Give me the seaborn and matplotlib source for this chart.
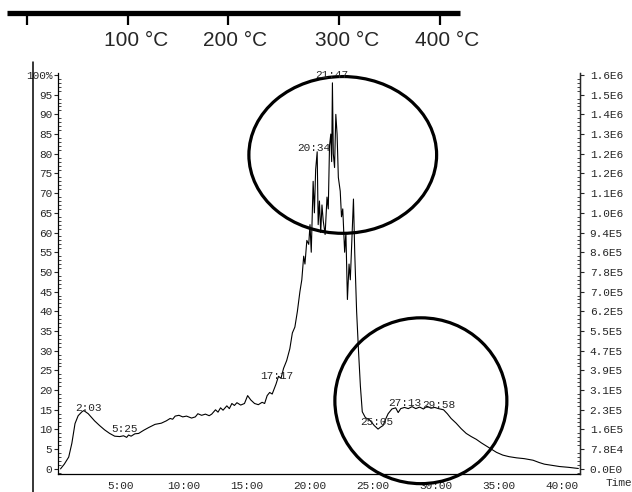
import numpy as np
import pandas as pd
import matplotlib
matplotlib.use("Agg")
import matplotlib.pyplot as plt
from matplotlib.patches import Ellipse
from matplotlib.lines import Line2D
from matplotlib.ticker import MultipleLocator
import seaborn as sns

# ---------------- data ----------------
time_min = [0.2, 0.5, 0.85, 1.1, 1.35, 1.6, 1.9, 2.05, 2.4, 2.9, 3.3, 3.7, 4.1, 4.5, 4.9,
            5.2, 5.45, 5.6, 5.8, 6.1, 6.4, 6.8, 7.2, 7.7, 8.2, 8.6, 8.9, 9.1, 9.3, 9.6,
            9.9, 10.2, 10.6, 10.9, 11.1, 11.4, 11.7, 12.0, 12.2, 12.5, 12.7, 12.9, 13.1,
            13.4, 13.6, 13.8, 14.0, 14.2, 14.5, 14.8, 15.05, 15.3, 15.6, 15.9, 16.2, 16.4,
            16.6, 16.8, 17.0, 17.3, 17.5, 17.7, 17.9, 18.15, 18.4, 18.6, 18.8, 19.0, 19.2,
            19.35, 19.5, 19.6, 19.75, 19.9, 20.0, 20.1, 20.25, 20.35, 20.45, 20.57, 20.65,
            20.75, 20.85, 20.95, 21.05, 21.2, 21.35, 21.45, 21.55, 21.65, 21.72, 21.78,
            21.85, 21.95, 22.05, 22.15, 22.25, 22.4, 22.5, 22.6, 22.75, 22.85, 22.97, 23.1,
            23.2, 23.35, 23.45, 23.55, 23.7, 23.85, 24.0, 24.15, 24.4, 24.7, 24.9, 25.1,
            25.4, 25.6, 25.8, 26.0, 26.2, 26.5, 26.8, 27.0, 27.2, 27.5, 27.8, 28.1, 28.4,
            28.7, 29.0, 29.3, 29.6, 29.9, 30.2, 30.6, 30.9, 31.2, 31.6, 32.0, 32.4, 32.8,
            33.2, 33.6, 34.0, 34.4, 34.8, 35.3, 35.8, 36.4, 37.0, 37.7, 38.2, 38.6, 39.2,
            39.8, 40.5, 41.3]
intensity_pct = [0.0, 1.2, 3.0, 6.5, 11.5, 13.5, 14.5, 14.8, 14.0, 12.2, 11.0, 9.9, 9.0, 8.3, 8.2,
                 8.4, 8.0, 8.6, 8.3, 8.9, 9.0, 9.8, 10.5, 11.3, 11.6, 12.2, 12.8, 12.6, 13.4, 13.6,
                 13.2, 13.4, 12.9, 13.2, 14.0, 13.6, 13.9, 13.5, 13.9, 15.0, 14.4, 15.5, 14.9,
                 16.0, 15.3, 16.6, 16.1, 16.8, 16.2, 16.6, 18.6, 17.5, 16.6, 16.3, 16.9, 16.6,
                 18.6, 19.4, 19.0, 21.5, 23.5, 23.0, 25.5, 27.5, 30.5, 34.5, 36.0, 40.0, 45.0,
                 48.0, 54.0, 52.0, 58.0, 57.0, 62.0, 55.0, 73.0, 65.0, 76.0, 80.5, 62.0,
                 68.0, 60.0, 67.0, 63.0, 59.5, 69.0, 66.0, 82.0, 85.0, 78.0, 98.0,
                 80.0, 76.5, 90.0, 85.0, 74.0, 70.5, 64.0, 66.0, 55.0, 60.0, 43.0, 52.0,
                 48.0, 60.0, 68.5, 55.0, 40.0, 30.0, 21.0, 14.5, 13.0, 12.5, 11.8, 11.0,
                 10.1, 10.6, 11.0, 12.6, 14.0, 15.2, 15.5, 14.3, 15.3, 15.6, 15.3, 15.8, 15.3,
                 15.7, 15.2, 15.9, 15.4, 15.6, 15.3, 15.0, 14.0, 12.8, 11.6, 10.2, 9.0, 8.2,
                 7.5, 6.6, 5.8, 5.0, 4.2, 3.5, 3.1, 2.8, 2.6, 2.2, 1.6, 1.2, 0.9,
                 0.6, 0.4, 0.1]

peak_labels = ["2:03", "5:25", "17:17", "20:34", "21:47", "25:05", "27:13", "29:58"]
peak_label_t = [2.38, 5.3, 17.35, 20.3, 21.72, 25.3, 27.54, 30.26]
peak_label_y = [15.5, 10.2, 23.6, 81.5, 100.0, 12.0, 16.7, 16.2]

left_ticks = list(range(0, 101, 5))
left_labels = [str(v) for v in left_ticks[:-1]] + ["100%"]
right_labels = ["0.0E0", "7.8E4", "1.6E5", "2.3E5", "3.1E5", "3.9E5", "4.7E5", "5.5E5",
                "6.2E5", "7.0E5", "7.8E5", "8.6E5", "9.4E5", "1.0E6", "1.1E6", "1.2E6",
                "1.2E6", "1.3E6", "1.4E6", "1.5E6", "1.6E6"]
time_ticks = [5, 10, 15, 20, 25, 30, 35, 40]
time_labels = ["5:00", "10:00", "15:00", "20:00", "25:00", "30:00", "35:00", "40:00"]

temp_labels = ["100 \u00b0C", "200 \u00b0C", "300 \u00b0C", "400 \u00b0C"]

# ---------------- figure ----------------
sns.set_style("white")
plt.rcParams["font.family"] = ["Liberation Mono", "DejaVu Sans"]

W, H = 632, 492
fig = plt.figure(figsize=(W / 100, H / 100), dpi=100)
fig.patch.set_facecolor("white")

def fx(px):
    return px / W

def fy(py):
    return 1 - py / H

ax = fig.add_axes([fx(58), fy(474), fx(580) - fx(58), fy(73) - fy(474)])
df = pd.DataFrame({"t": time_min, "v": intensity_pct})
sns.lineplot(data=df, x="t", y="v", ax=ax, color="black", lw=0.8,
             estimator=None, sort=False)
ax.set_xlim(0, 41.43)
ax.set_ylim(-1.3, 100.5)
ax.set_xlabel("")
ax.set_ylabel("")

mono = dict(family=["Liberation Mono", "DejaVu Sans"], size=8)
ax.set_yticks(left_ticks)
ax.set_yticklabels(left_labels, fontdict=mono)
ax.yaxis.set_minor_locator(MultipleLocator(1))
ax.set_xticks(time_ticks)
ax.set_xticklabels(time_labels, fontdict=mono)
ax.xaxis.set_minor_locator(MultipleLocator(1))
ax.tick_params(axis="y", which="major", direction="out", length=3, width=0.8, pad=1)
ax.tick_params(axis="y", which="minor", direction="in", length=2.5, width=0.6)
ax.tick_params(axis="x", which="major", direction="out", length=3, width=0.8, pad=2)
ax.tick_params(axis="x", which="minor", direction="out", length=2, width=0.6)
for s in ["left", "bottom", "right"]:
    ax.spines[s].set_visible(True)
    ax.spines[s].set_color("black")
    ax.spines[s].set_linewidth(0.9)
ax.spines["top"].set_visible(False)

ax2 = ax.twinx()
ax2.set_ylim(ax.get_ylim())
ax2.set_yticks(left_ticks)
ax2.set_yticklabels(right_labels, fontdict=mono)
ax2.yaxis.set_minor_locator(MultipleLocator(1))
ax2.tick_params(axis="y", which="major", direction="out", length=3, width=0.8, pad=4)
ax2.tick_params(axis="y", which="minor", direction="in", length=2.5, width=0.6)
for s in ["left", "bottom", "top"]:
    ax2.spines[s].set_visible(False)
ax2.spines["right"].set_linewidth(0.9)

for lab, t, v in zip(peak_labels, peak_label_t, peak_label_y):
    ax.text(t, v, lab, ha="center", va="center", fontdict=mono, clip_on=False)

# circled regions
ax.add_patch(Ellipse((22.6, 79.7), 14.9, 39.8, fill=False, ec="black", lw=2.3, clip_on=False))
ax.add_patch(Ellipse((28.8, 17.3), 13.65, 42.1, fill=False, ec="black", lw=2.3, clip_on=False))

fig.text(fx(606), fy(483), "Time", ha="left", va="center", fontdict=mono)

# temperature ruler
fig.add_artist(Line2D([fx(7), fx(460)], [fy(12.5), fy(12.5)], color="black", lw=3.8,
                      solid_capstyle="butt"))
for px in [27, 128, 228, 339, 440]:
    fig.add_artist(Line2D([fx(px), fx(px)], [fy(12), fy(25)], color="black", lw=1.6,
                          solid_capstyle="butt"))
for lab, px in zip(temp_labels, [136, 235, 347, 447]):
    fig.text(fx(px), fy(40), lab, ha="center", va="center", fontsize=15,
             family=["Liberation Sans Narrow", "Liberation Sans", "DejaVu Sans"])

# outer frame line at left
fig.add_artist(Line2D([fx(33), fx(33)], [fy(62), fy(492)], color="black", lw=1.1))

fig.savefig("out.png", dpi=100, facecolor="white")
